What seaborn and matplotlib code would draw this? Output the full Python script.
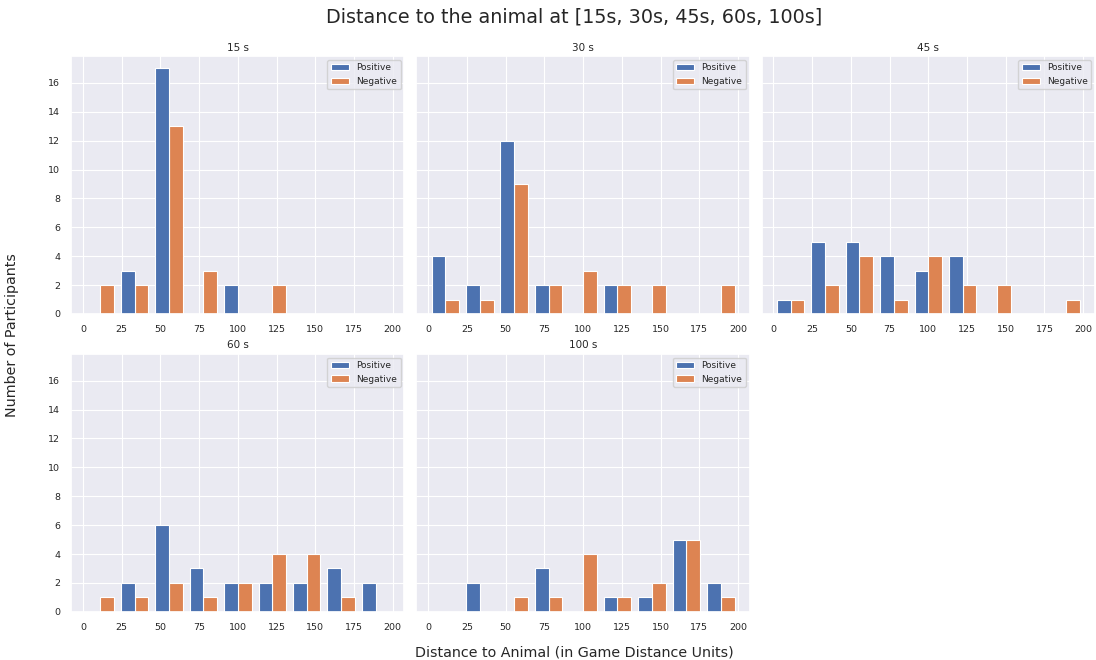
import numpy as np
import pandas as pd
import matplotlib
matplotlib.use("Agg")
import matplotlib.pyplot as plt
import seaborn as sns

# Histogram bins: 9 equal bins over 0..200 game distance units
bin_edges = list(np.linspace(0, 200, 10))
bin_centers = [(a + b) / 2 for a, b in zip(bin_edges[:-1], bin_edges[1:])]

time_points = ["15 s", "30 s", "45 s", "60 s", "100 s"]
groups = ["Positive", "Negative"]

# Participant counts per distance bin
positive_15 = [0, 3, 17, 0, 2, 0, 0, 0, 0]
negative_15 = [2, 2, 13, 3, 0, 2, 0, 0, 0]
positive_30 = [4, 2, 12, 2, 0, 2, 0, 0, 0]
negative_30 = [1, 1, 9, 2, 3, 2, 2, 0, 2]
positive_45 = [1, 5, 5, 4, 3, 4, 0, 0, 0]
negative_45 = [1, 2, 4, 1, 4, 2, 2, 0, 1]
positive_60 = [0, 2, 6, 3, 2, 2, 2, 3, 2]
negative_60 = [1, 1, 2, 1, 2, 4, 4, 1, 0]
positive_100 = [0, 2, 0, 3, 0, 1, 1, 5, 2]
negative_100 = [0, 0, 1, 1, 4, 1, 2, 5, 1]

counts = {
    "15 s": (positive_15, negative_15),
    "30 s": (positive_30, negative_30),
    "45 s": (positive_45, negative_45),
    "60 s": (positive_60, negative_60),
    "100 s": (positive_100, negative_100),
}

sns.set_theme(style="darkgrid", rc={"grid.linewidth": 0.8})
plt.rcParams["font.family"] = ["DejaVu Sans"]

fig, axes = plt.subplots(2, 3, figsize=(10.96, 6.6), dpi=100, sharey=True)
fig.subplots_adjust(left=0.065, right=0.999, top=0.915, bottom=0.073,
                    wspace=0.036, hspace=0.155)

palette = {"Positive": "#4C72B0", "Negative": "#DD8452"}

for ax, tp in zip(axes.flat, time_points):
    pos, neg = counts[tp]
    frame = pd.DataFrame({
        "distance": bin_centers + bin_centers,
        "count": list(pos) + list(neg),
        "group": ["Positive"] * len(bin_centers) + ["Negative"] * len(bin_centers),
    })
    sns.histplot(data=frame, x="distance", weights="count", hue="group",
                 hue_order=groups, palette=palette, bins=bin_edges,
                 multiple="dodge", shrink=0.8, alpha=1.0,
                 edgecolor="white", linewidth=0.8, ax=ax)
    sns.move_legend(ax, "upper right", title=None, fontsize=6.5,
                    frameon=True, handlelength=2.0, borderaxespad=0.4)
    ax.set_title(tp, fontsize=7.5, color=".15", pad=4)
    ax.set_xlabel("")
    ax.set_ylabel("")
    ax.set_xticks(np.arange(0, 201, 25))
    ax.set_yticks(np.arange(0, 17, 2))
    ax.tick_params(labelsize=6.8, pad=2)
    ax.tick_params(axis="y", labelleft=ax in axes[:, 0])

axes[1, 2].set_visible(False)

fig.suptitle("Distance to the animal at [15s, 30s, 45s, 60s, 100s]",
             fontsize=13.8, color=".15", x=0.524, y=0.988)
fig.supxlabel("Distance to Animal (in Game Distance Units)", fontsize=10.3,
              color=".15", x=0.524, y=0.0)
fig.supylabel("Number of Participants", fontsize=10.3, color=".15",
              x=0.005, y=0.492)

fig.savefig("out.png", dpi=100)
